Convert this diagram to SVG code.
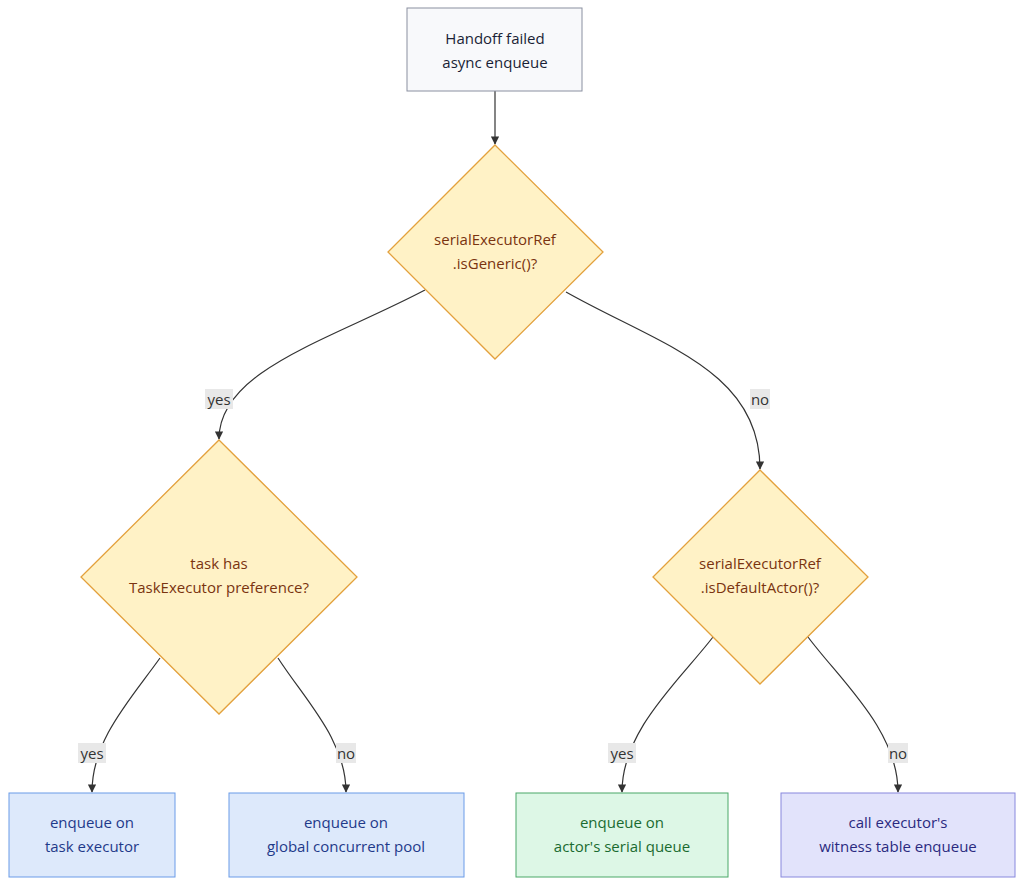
<svg xmlns="http://www.w3.org/2000/svg" width="1024" height="885" viewBox="0 0 1024 885">
<style>
text{font-family:"Open Sans","Liberation Sans",sans-serif;font-size:15px;text-anchor:middle}
.dia{fill:#fff2c6;stroke:#e3a13d;stroke-width:1.3}
.dt{fill:#7a3410}
.e{fill:none;stroke:#333;stroke-width:1.2;marker-end:url(#a)}
.lb{fill:#e8e8e8}
.lt{fill:#333}
</style>
<defs><marker id="a" viewBox="0 0 10 10" refX="9" refY="5" markerWidth="7" markerHeight="7" orient="auto"><path d="M0,0L10,5L0,10z" fill="#333"/></marker></defs>
<g id="edges">
<path class="e" d="M495,91V144"/>
<path class="e" d="M425,290C330,340 219,370 219,439"/>
<path class="e" d="M566,292C660,345 760,370 760,469"/>
<path class="e" d="M160,658C130,700 92,740 92,792"/>
<path class="e" d="M278,658C305,700 346,740 346,792"/>
<path class="e" d="M713,637C680,680 622,730 622,792"/>
<path class="e" d="M808,637C840,680 898,730 898,792"/>
<rect class="lb" x="205" y="389" width="28" height="20"/><text class="lt" x="219" y="405">yes</text>
<rect class="lb" x="750" y="389" width="20" height="20"/><text class="lt" x="760" y="405">no</text>
<rect class="lb" x="78" y="743" width="28" height="20"/><text class="lt" x="92" y="759">yes</text>
<rect class="lb" x="336" y="743" width="20" height="20"/><text class="lt" x="346" y="759">no</text>
<rect class="lb" x="608" y="743" width="28" height="20"/><text class="lt" x="622" y="759">yes</text>
<rect class="lb" x="888" y="743" width="20" height="20"/><text class="lt" x="898" y="759">no</text>
</g>
<g id="start"><rect x="407" y="8" width="175" height="83" fill="#f8f9fb" stroke="#8a8fa0"/><text x="495" y="44" fill="#1a1f36">Handoff failed</text><text x="495" y="68" fill="#1a1f36">async enqueue</text></g>
<g id="d1"><polygon class="dia" points="495,145 603,252 495,359 388,252"/><text class="dt" x="495" y="245">serialExecutorRef</text><text class="dt" x="495" y="269">.isGeneric()?</text></g>
<g id="d2"><polygon class="dia" points="219,440 357,577 219,714 81,577"/><text class="dt" x="219" y="569">task has</text><text class="dt" x="219" y="593">TaskExecutor preference?</text></g>
<g id="d3"><polygon class="dia" points="760,470 868,577 760,684 653,577"/><text class="dt" x="760" y="569">serialExecutorRef</text><text class="dt" x="760" y="593">.isDefaultActor()?</text></g>
<g id="b1"><rect x="9" y="793" width="166" height="84" fill="#dde9fb" stroke="#6a9be8"/><text x="92" y="828" fill="#1f3a8a">enqueue on</text><text x="92" y="852" fill="#1f3a8a">task executor</text></g>
<g id="b2"><rect x="229" y="793" width="235" height="84" fill="#dde9fb" stroke="#6a9be8"/><text x="346" y="828" fill="#1f3a8a">enqueue on</text><text x="346" y="852" fill="#1f3a8a">global concurrent pool</text></g>
<g id="b3"><rect x="516" y="793" width="212" height="84" fill="#ddf7e6" stroke="#4aa868"/><text x="622" y="828" fill="#1a6b30">enqueue on</text><text x="622" y="852" fill="#1a6b30">actor's serial queue</text></g>
<g id="b4"><rect x="781" y="793" width="234" height="84" fill="#e2e3fb" stroke="#8888dd"/><text x="898" y="828" fill="#2a2a80">call executor's</text><text x="898" y="852" fill="#2a2a80">witness table enqueue</text></g>
</svg>
